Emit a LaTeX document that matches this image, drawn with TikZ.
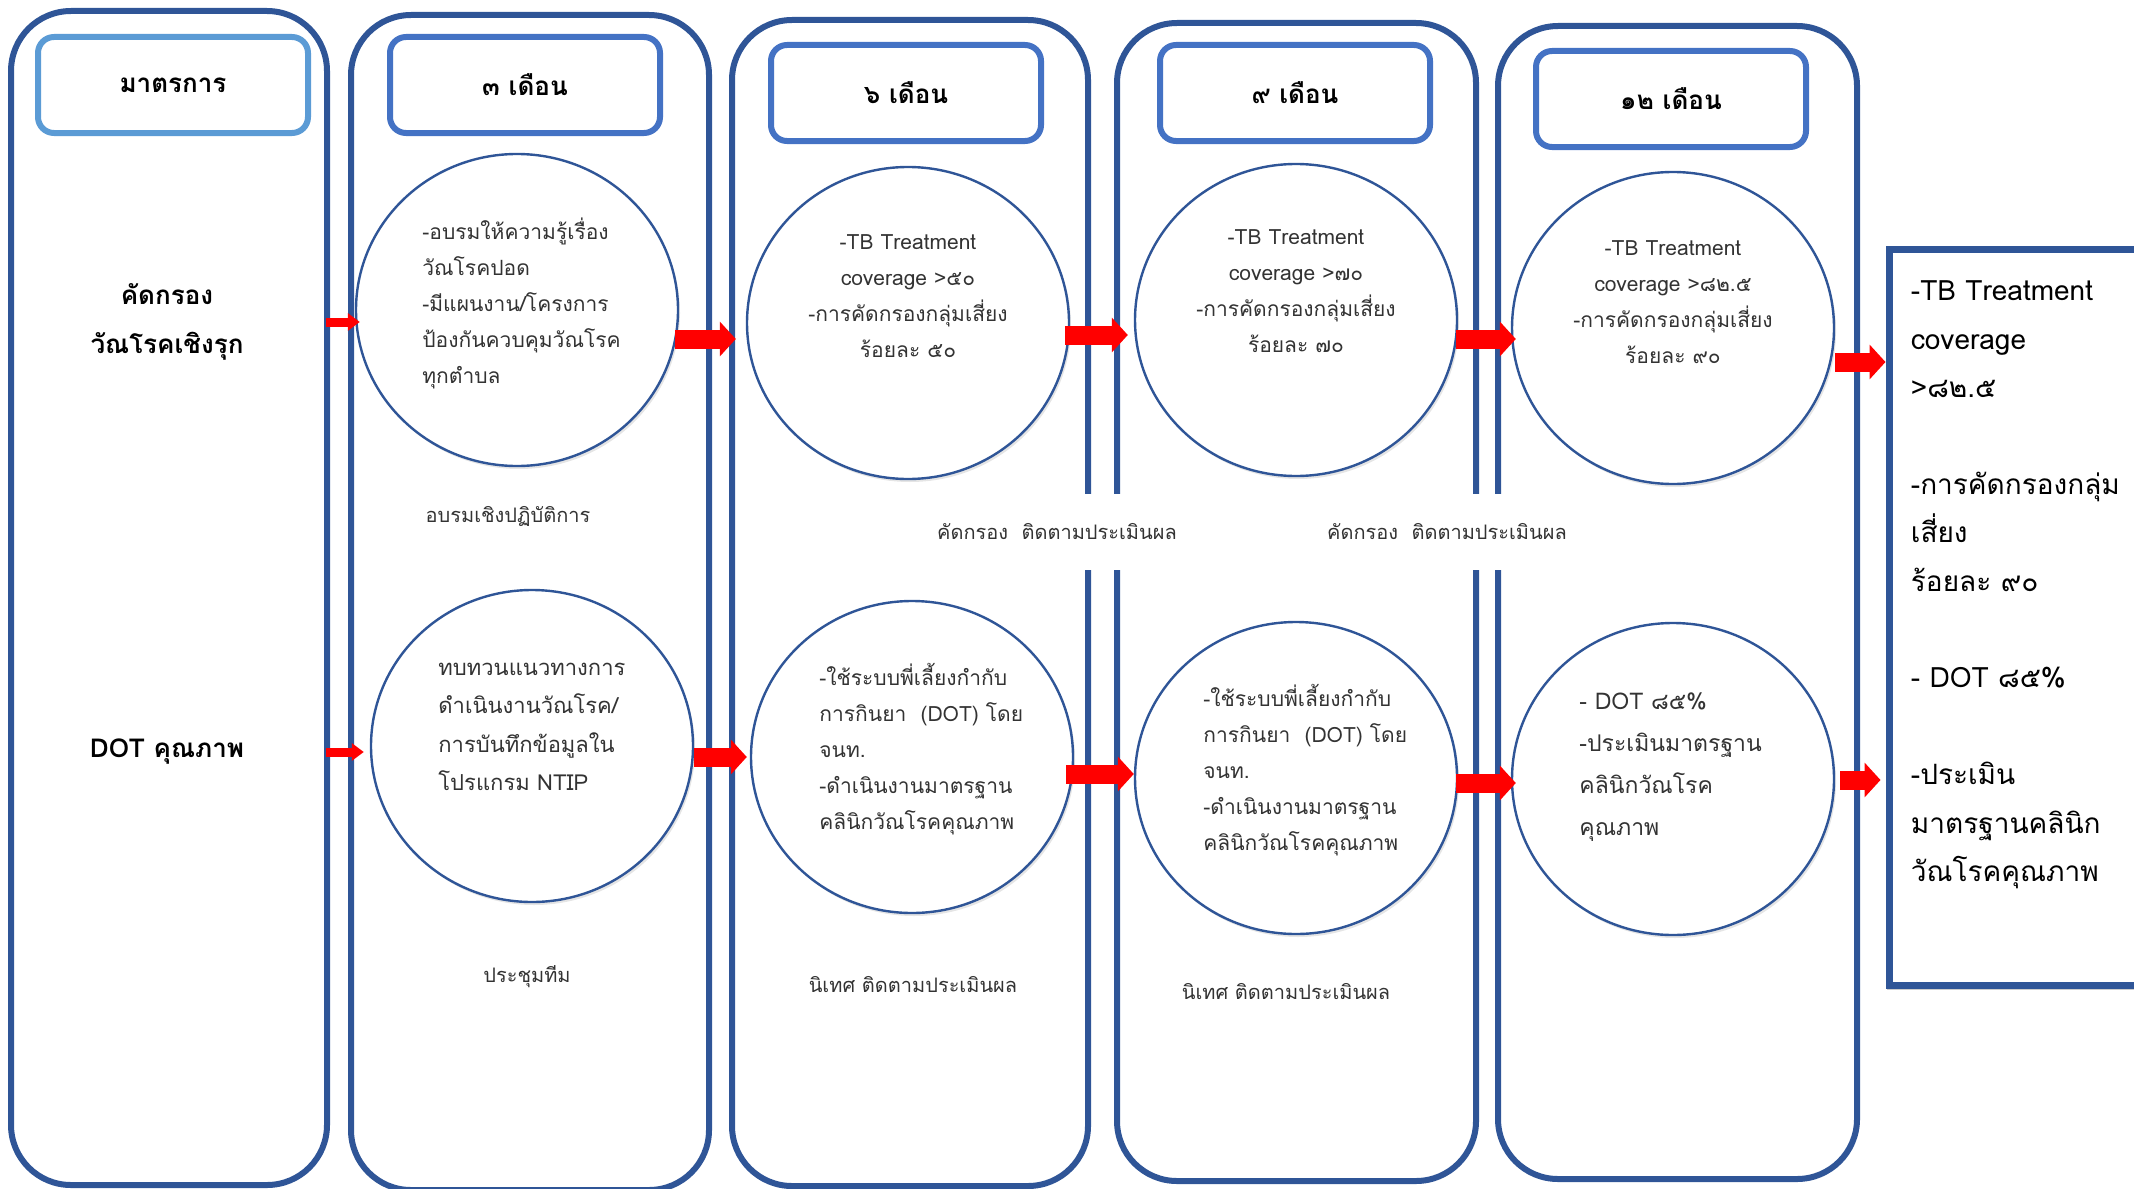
\documentclass[tikz,border=0pt]{standalone}
\usepackage{fontspec}
\newfontfamily\thaifont[Script=Thai]{Loma}
\usetikzlibrary{shapes.geometric,arrows.meta,fit,calc,shadows}
\definecolor{colblue}{HTML}{2F5597}
\definecolor{headblue}{HTML}{4472C4}
\definecolor{headlight}{HTML}{5B9BD5}
\definecolor{textgray}{HTML}{333333}
\tikzset{
	colbox/.style={draw=colblue, line width=3pt, rounded corners=30pt, inner sep=0pt},
	headbox/.style={draw=#1, line width=3pt, rounded corners=8pt, fill=white,
		minimum width=135pt, minimum height=48pt,
		font=\thaifont\fontsize{13pt}{16pt}\selectfont\bfseries},
	sidelabel/.style={align=center, inner sep=0pt,
		font=\thaifont\fontsize{13pt}{24.5pt}\selectfont\bfseries},
	bubble/.style={ellipse, draw=colblue, line width=1.2pt, fill=white,
		minimum width=161pt, minimum height=156pt,
		drop shadow={shadow xshift=1pt, shadow yshift=-1.5pt, opacity=0.1, fill=black}},
	bubtext/.style={align=#1, inner sep=0pt, text=textgray,
		font=\thaifont\fontsize{10.5pt}{18pt}\selectfont},
	bubtext/.default=left,
	note/.style={inner sep=0pt, text=textgray, font=\thaifont\fontsize{10pt}{12pt}\selectfont},
	outbox/.style={draw=colblue, line width=3.5pt, fill=white, inner sep=0pt,
		drop shadow={shadow xshift=-1pt, shadow yshift=-2.5pt, opacity=0.2, fill=black}},
	restext/.style={align=left, inner sep=0pt, font=\thaifont\fontsize{14pt}{24.2pt}\selectfont},
	bigarrow/.style={draw=red, line width=9.5pt, -{Triangle[width=17pt,length=8pt]}},
	smallarrow/.style={draw=red, line width=4.5pt, -{Triangle[width=8.5pt,length=6pt]}}
}

\begin{document}
\begin{tikzpicture}[x=0.5pt,y=-0.5pt]
	\useasboundingbox (0,0) rectangle (2134,1188);
	\clip (0,0) rectangle (2134,1188);
	\node[colbox, fit={(11,11) (327,1185)}] (col0) {};
	\node[colbox, fit={(351,15) (709,1190)}] (col1) {};
	\node[colbox, fit={(732,20) (1088,1186)}] (col2) {};
	\node[colbox, fit={(1117,23) (1476,1181)}] (col3) {};
	\node[colbox, fit={(1498,26) (1857,1179)}] (col4) {};

	\node[headbox=headlight] (h0) at (173,85) {มาตรการ};
	\node[headbox=headblue] (h1) at (525,85) {๓ เดือน};
	\node[headbox=headblue] (h2) at (906,93) {๖ เดือน};
	\node[headbox=headblue] (h3) at (1295,93) {๙ เดือน};
	\node[headbox=headblue] (h4) at (1671,99) {๑๒ เดือน};

	\node[sidelabel] (m1) at (167,322) {คัดกรอง\\วัณโรคเชิงรุก};
	\node[sidelabel] (m2) at (167,752) {DOT คุณภาพ};

	\newcommand\dotplan{-ใช้ระบบพี่เลี้ยงกำกับ\\การกินยา\ \ (DOT) โดย\\จนท.\\-ดำเนินงานมาตรฐาน\\คลินิกวัณโรคคุณภาพ}

	\node[bubble] (C1) at (517,310) {};
	\node[bubtext, anchor=west] (C1t) at ($(C1)+(-95,-7)$)
		{-อบรมให้ความรู้เรื่อง\\วัณโรคปอด\\-มีแผนงาน/โครงการ\\ป้องกันควบคุมวัณโรค\\ทุกตำบล};
	\node[bubble] (C2) at (908,323) {};
	\node[bubtext=center] (C2t) at ($(C2)+(0,-27)$)
		{-TB Treatment\\coverage >๕๐\\-การคัดกรองกลุ่มเสี่ยง\\ร้อยละ ๕๐};
	\node[bubble] (C3) at (1296,320) {};
	\node[bubtext=center] (C3t) at ($(C3)+(0,-29)$)
		{-TB Treatment\\coverage >๗๐\\-การคัดกรองกลุ่มเสี่ยง\\ร้อยละ ๗๐};
	\node[bubble] (C4) at (1673,328) {};
	\node[bubtext=center] (C4t) at ($(C4)+(0,-26)$)
		{-TB Treatment\\coverage >๘๒.๕\\-การคัดกรองกลุ่มเสี่ยง\\ร้อยละ ๙๐};

	\node[bubble] (D1) at (532,746) {};
	\node[bubtext, anchor=west, font=\thaifont\fontsize{11pt}{19.2pt}\selectfont] (D1t) at ($(D1)+(-94,-19)$)
		{ทบทวนแนวทางการ\\ดำเนินงานวัณโรค/\\การบันทึกข้อมูลใน\\โปรแกรม NTIP};
	\node[bubble] (D2) at (912,757) {};
	\node[bubtext, anchor=west] (D2t) at ($(D2)+(-93,-8)$) {\dotplan};
	\node[bubble] (D3) at (1296,778) {};
	\node[bubtext, anchor=west] (D3t) at ($(D3)+(-93,-8)$) {\dotplan};
	\node[bubble] (D4) at (1673,779) {};
	\node[bubtext, anchor=west, font=\thaifont\fontsize{11.5pt}{21pt}\selectfont] (D4t) at ($(D4)+(-94,-12)$)
		{- DOT ๘๕\%\\-ประเมินมาตรฐาน\\คลินิกวัณโรค\\คุณภาพ};

	\node[note] (n1) at (508,516) {อบรมเชิงปฏิบัติการ};
	\node[note] (n2) at (527,977) {ประชุมทีม};
	\node[note, fill=white, minimum height=38pt, inner xsep=4pt] (n3) at (1057,532) {คัดกรอง\ \ ติดตามประเมินผล};
	\node[note, fill=white, minimum height=38pt, inner xsep=4pt] (n4) at (1447,532) {คัดกรอง\ \ ติดตามประเมินผล};
	\node[note] (n5) at (913,985) {นิเทศ ติดตามประเมินผล};
	\node[note] (n6) at (1286,992) {นิเทศ ติดตามประเมินผล};

	\node[outbox, fit={(1889,249) (2160,985)}] (res) {};
	\node[restext, anchor=north west] (rest) at ($(res.north west)+(25,35)$)
		{-TB Treatment\\coverage\\>๘๒.๕\\[24.2pt]-การคัดกรองกลุ่ม\\เสี่ยง\\ร้อยละ ๙๐\\[24.2pt]- DOT ๘๕\%\\[24.2pt]-ประเมิน\\มาตรฐานคลินิก\\วัณโรคคุณภาพ};

	\coordinate (c4out) at ([yshift=-17pt]C4.east);
	\coordinate (d4out) at ([yshift=-0.5pt]D4.east);
	\draw[smallarrow, shorten <=-2pt, shorten >=-2.5pt] (col0.east |- m1) -- (C1.west |- m1);
	\draw[smallarrow, shorten <=-2pt, shorten >=3pt] (col0.east |- m2) -- (D1.west |- m2);
	\draw[bigarrow, shorten <=-2pt, shorten >=5pt] ([yshift=-14.5pt]C1.east) -- ([yshift=-8pt]C2.west);
	\draw[bigarrow, shorten <=-2.5pt, shorten >=3pt] ([yshift=-6pt]C2.east) -- ([yshift=-7.5pt]C3.west);
	\draw[bigarrow, shorten <=-1pt, shorten >=-2.5pt] ([yshift=-9.5pt]C3.east) -- ([yshift=-5.5pt]C4.west);
	\draw[bigarrow] (c4out) -- (c4out -| res.west);
	\draw[bigarrow, shorten >=1.5pt] ([yshift=-5.5pt]D1.east) -- (D2.west);
	\draw[bigarrow, shorten <=-4pt] ([yshift=-8.5pt]D2.east) -- ([yshift=2pt]D3.west);
	\draw[bigarrow, shorten <=-1pt, shorten >=-2.5pt] ([yshift=-2.5pt]D3.east) -- ([yshift=-2pt]D4.west);
	\draw[bigarrow, shorten <=2.5pt, shorten >=2.5pt] (d4out) -- (d4out -| res.west);
\end{tikzpicture}
\end{document}
